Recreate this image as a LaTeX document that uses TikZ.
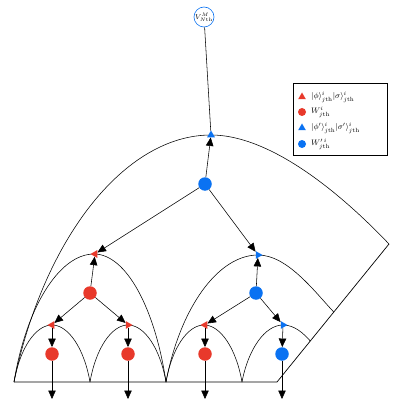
\documentclass[tikz,border=0pt]{standalone}
\usetikzlibrary{arrows.meta,shapes.geometric}
\definecolor{myred}{HTML}{E8392B}
\definecolor{myblue}{HTML}{0A72F2}
\begin{document}
\begin{tikzpicture}[x=1pt,y=-1pt,
  arcline/.style={line width=0.55pt},
  conn/.style={line width=0.55pt,-{Triangle[length=8.5pt,width=7.5pt]}},
  plainconn/.style={line width=0.55pt},
  rw/.style={circle,inner sep=0pt,minimum size=13.5pt,fill=myred},
  bw/.style={circle,inner sep=0pt,minimum size=13.5pt,fill=myblue},
  tribase/.style={regular polygon,regular polygon sides=3,inner sep=0pt,minimum size=9pt},
  rtri/.style={tribase,fill=myred},
  btri/.style={tribase,fill=myblue},
  tleft/.style={shape border rotate=90},
  tright/.style={shape border rotate=-90},
  legsym/.style={inner sep=0pt,minimum size=9pt},
  legtext/.style={anchor=west,inner sep=0pt,font=\footnotesize}]
\useasboundingbox (0,0) rectangle (412,409);

% arcs and frame
\draw[arcline] (14,382) .. controls (43.6,239) and (124.3,135) .. (211,135)
  .. controls (276,135) and (351,204) .. (389,244);
\draw[arcline] (14,382) .. controls (26,308) and (59,254) .. (94,254)
  .. controls (126,254) and (155,308) .. (166,382);
\draw[arcline] (166,382) .. controls (180,308) and (218,255) .. (258,255)
  .. controls (288,255) and (316,293.5) .. (333.8,312);
\draw[arcline] (14,382) .. controls (19.7,349) and (35.3,325) .. (52,325)
  .. controls (68.7,325) and (84.3,349) .. (90,382);
\draw[arcline] (90,382) .. controls (95.7,349) and (111.3,325) .. (128,325)
  .. controls (144.7,325) and (160.3,349) .. (166,382);
\draw[arcline] (166,382) .. controls (171.7,349) and (187.3,325) .. (204,325)
  .. controls (220.7,325) and (236.3,349) .. (242,382);
\draw[arcline] (242,382) .. controls (248.2,349) and (265,325) .. (283,325)
  .. controls (295,325) and (304,334) .. (310.3,341);
\draw[line width=0.7pt] (14,382) -- (277,382) -- (389,244);

% nodes
\node[circle,draw=myblue,line width=0.6pt,fill=white,minimum size=20pt,inner sep=0pt,font=\scriptsize] (root) at (204,17) {$V^{M}_{N\mathrm{th}}$};
\node[btri] (tTop) at (211,135) {};
\node[bw] (cTop) at (205,184) {};
\node[rtri,tleft] (tL) at (95,254) {};
\node[btri,tright] (tR) at (258,255) {};
\node[rw] (cL) at (90,293) {};
\node[bw] (cR) at (256,293) {};
\node[rtri,tleft] (t1) at (52,325) {};
\node[rtri,tright] (t2) at (128,325) {};
\node[rtri,tleft] (t3) at (205,325) {};
\node[btri,tright] (t4) at (283,325) {};
\node[rw] (c1) at (52,354) {};
\node[rw] (c2) at (128,354) {};
\node[rw] (c3) at (205,354) {};
\node[bw] (c4) at (282,354) {};
\coordinate (o1) at (52,399);
\coordinate (o2) at (128,399);
\coordinate (o3) at (205,399);
\coordinate (o4) at (282,399);

% connectors
\draw[plainconn] (root) -- (tTop);
\draw[conn] (cTop) -- (tTop);
\draw[conn] (cTop) -- (tL);
\draw[conn] (cTop) -- (tR);
\draw[conn] (cL) -- (tL);
\draw[conn] (cR) -- (tR);
\draw[conn] (cL) -- (t1);
\draw[conn] (cL) -- (t2);
\draw[conn] (cR) -- (t3);
\draw[conn] (cR) -- (t4);
\foreach \i in {1,2,3,4}{
  \draw[conn] (t\i) -- (c\i);
  \draw[conn] (c\i) -- (o\i);
}

% legend
\node[draw,line width=0.6pt,fill=white,minimum width=94pt,minimum height=72pt,anchor=north west,inner sep=0pt] (leg) at (293,83) {};
\node[legsym,regular polygon,regular polygon sides=3,fill=myred] (ls1) at (302,97) {};
\node[legsym,circle,fill=myred,minimum size=8pt] (ls2) at (302,112) {};
\node[legsym,regular polygon,regular polygon sides=3,fill=myblue] (ls3) at (302,128) {};
\node[legsym,circle,fill=myblue,minimum size=8pt] (ls4) at (302,144) {};
\node[legtext] (lt1) at (311,97) {$|\phi\rangle^{i}_{j\mathrm{th}}|\sigma\rangle^{i}_{j\mathrm{th}}$};
\node[legtext] (lt2) at (311,112) {$W^{i}_{j\mathrm{th}}$};
\node[legtext] (lt3) at (311,128) {$|\phi'\rangle^{i}_{j\mathrm{th}}|\sigma'\rangle^{i}_{j\mathrm{th}}$};
\node[legtext] (lt4) at (311,144) {$W'^{\,i}_{j\mathrm{th}}$};
\end{tikzpicture}
\end{document}
